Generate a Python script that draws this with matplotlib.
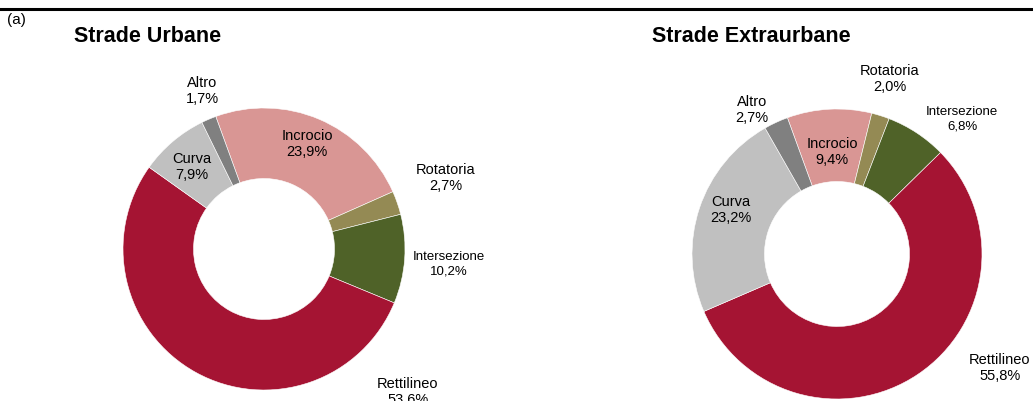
import matplotlib
matplotlib.use("Agg")
import matplotlib.pyplot as plt
from matplotlib.lines import Line2D

W, H = 1033, 401

# data (clockwise order, starting at ~110 deg)
categories = ["Incrocio", "Rotatoria", "Intersezione", "Rettilineo", "Curva", "Altro"]
urbane = [23.9, 2.7, 10.2, 53.6, 7.9, 1.7]
extraurbane = [9.4, 2.0, 6.8, 55.8, 23.2, 2.7]
colors = ["#D99694", "#948A54", "#4F6228", "#A51433", "#C0C0C0", "#808080"]

FONT = ["Liberation Sans Narrow", "Liberation Sans", "DejaVu Sans"]
plt.rcParams["font.family"] = FONT

def px(x, y):
    return x / W, 1 - y / H

def fmt(v):
    return ("%.1f%%" % v).replace(".", ",")

fig = plt.figure(figsize=(W / 100, H / 100), dpi=100)

# top rule and panel tag
fig.add_artist(Line2D([0, 1], [1 - 8.5 / H, 1 - 8.5 / H], color="black", lw=2.2,
                      transform=fig.transFigure))
fig.text(*px(7, 20), "(a)", fontsize=11, ha="left", va="center")

def donut(cx, cy, r, values, title, title_xy, label_xy, small=()):
    l, b = px(cx - r, cy + r)
    ax = fig.add_axes([l, b, 2 * r / W, 2 * r / H])
    ax.pie(values, colors=colors, startangle=110, counterclock=False,
           wedgeprops=dict(width=0.5, edgecolor="white", linewidth=0.4))
    ax.set_xlim(-1, 1)
    ax.set_ylim(-1, 1)
    ax.set_aspect("equal")
    ax.axis("off")
    fig.text(*px(*title_xy), title, fontsize=15.5, fontweight="bold",
             ha="left", va="center")
    for cat, v in zip(categories, values):
        x, y = label_xy[cat]
        fs = 9.5 if cat in small else 10.5
        fig.text(*px(x, y), cat + "\n" + fmt(v), fontsize=fs, ha="center",
                 va="center", linespacing=1.25)

donut(264, 249, 141, urbane, "Strade Urbane", (74, 37),
      {"Incrocio": (307, 144), "Rotatoria": (446, 178), "Intersezione": (449, 264),
       "Rettilineo": (408, 392), "Curva": (192, 167), "Altro": (202, 91)},
      small=("Intersezione",))
donut(837, 254, 145, extraurbane, "Strade Extraurbane", (652, 37),
      {"Incrocio": (832, 152), "Rotatoria": (890, 79), "Intersezione": (962, 119),
       "Rettilineo": (1000, 368), "Curva": (731, 210), "Altro": (752, 110)},
      small=("Intersezione",))

fig.savefig("out.png", dpi=100)
